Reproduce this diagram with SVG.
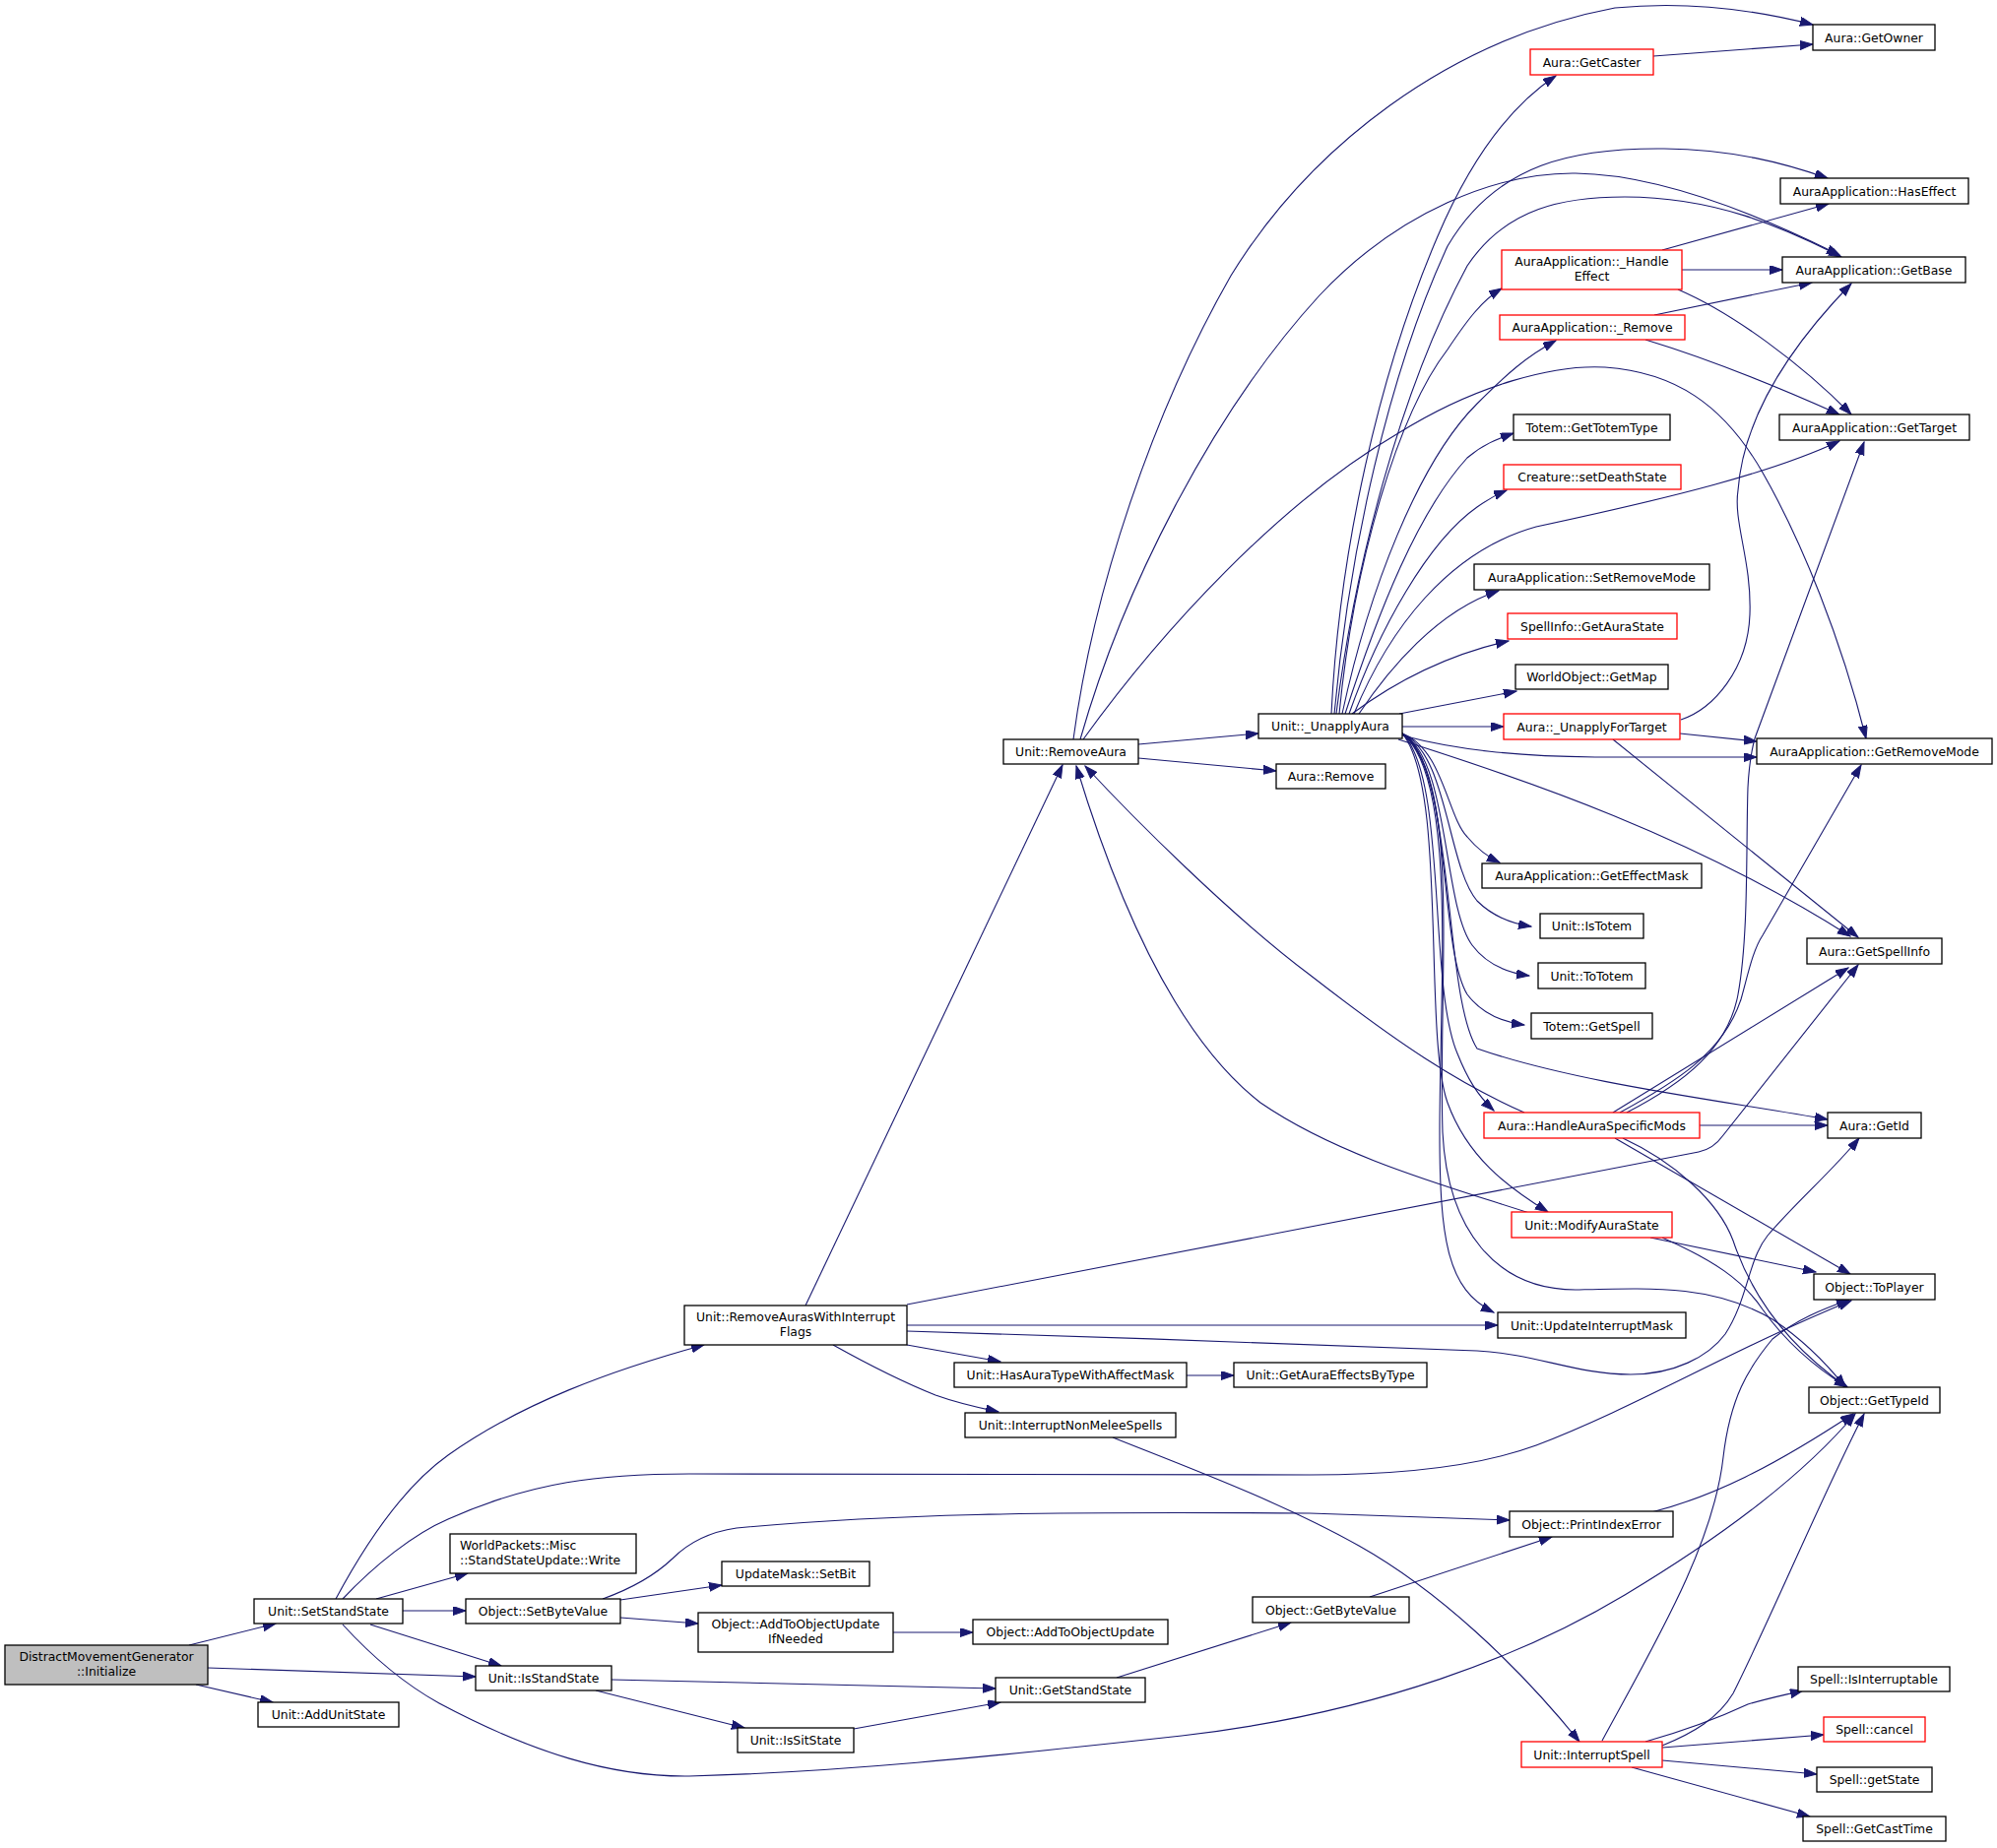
<svg xmlns="http://www.w3.org/2000/svg" width="2028" height="1877" viewBox="0 0 2028 1877">
<style>
.n rect{fill:#fff;stroke:#000;stroke-width:1.3}
.r rect{fill:#fff;stroke:#ff0000;stroke-width:1.3}
.g rect{fill:#bfbfbf;stroke:#000;stroke-width:1.3}
text{font-family:"DejaVu Sans","Liberation Sans",sans-serif;font-size:12.4px;fill:#000;text-anchor:middle}
text.l{text-anchor:start}
#edges path{fill:none;stroke:#191970;stroke-width:1.1;marker-end:url(#a)}
</style>
<defs>
<marker id="a" markerWidth="14" markerHeight="10" refX="13" refY="4.5" orient="auto" markerUnits="userSpaceOnUse">
<path d="M0,0 L13,4.5 L0,9 z" fill="#191970" stroke="#191970" stroke-width="1"/>
</marker>
</defs>
<rect width="2028" height="1877" fill="#fff"/>
<g id="edges">
<path d="M192,1671 L280,1649"/>
<path d="M211,1694 L483,1703"/>
<path d="M199,1711 L277,1729"/>
<path d="M341,1624 C370,1570 410,1510 455,1478 C530,1425 620,1392 715,1366"/>
<path d="M348,1624 C380,1590 420,1558 455,1543 C540,1505 610,1497 700,1497 L1330,1498 C1420,1498 1500,1490 1560,1468 C1660,1430 1760,1370 1880,1321"/>
<path d="M382,1624 L475,1598"/>
<path d="M409,1636 L473,1636"/>
<path d="M376,1650 L509,1692"/>
<path d="M348,1650 C380,1685 410,1710 446,1730 C540,1780 620,1805 700,1804 C850,1800 1000,1785 1200,1763 C1400,1740 1550,1680 1650,1620 C1750,1560 1830,1500 1884,1436"/>
<path d="M612,1624 C640,1614 665,1600 683,1583 C700,1566 720,1556 748,1552 C900,1538 1050,1535 1330,1537 L1533,1544"/>
<path d="M630,1625 L733,1610"/>
<path d="M630,1643 L709,1649"/>
<path d="M621,1706 L1011,1715"/>
<path d="M605,1717 L756,1755"/>
<path d="M867,1756 L1016,1729"/>
<path d="M1134,1704 L1311,1648"/>
<path d="M1391,1622 L1576,1561"/>
<path d="M907,1658 L988,1658"/>
<path d="M1677,1536 C1740,1520 1800,1490 1882,1436"/>
<path d="M818,1326 L1079,777"/>
<path d="M921,1325 L1725,1170 Q1740,1167 1750,1153 L1887,980"/>
<path d="M921,1346 L1521,1346"/>
<path d="M921,1352 C1100,1358 1350,1365 1500,1372 C1560,1375 1600,1396 1656,1396 C1700,1396 1735,1378 1752,1355 C1775,1320 1775,1280 1795,1255 C1825,1220 1860,1190 1888,1156"/>
<path d="M921,1366 L1016,1383"/>
<path d="M846,1366 C880,1385 920,1405 950,1417 C975,1426 995,1430 1014,1434"/>
<path d="M1205,1397 L1253,1397"/>
<path d="M1130,1460 C1200,1488 1300,1525 1380,1570 C1460,1615 1540,1690 1604,1769"/>
<path d="M1627,1768 C1680,1670 1740,1570 1750,1480 C1757,1420 1775,1390 1800,1360 C1825,1340 1850,1330 1878,1320"/>
<path d="M1688,1773 C1720,1760 1745,1745 1760,1720 C1800,1640 1850,1520 1893,1436"/>
<path d="M1671,1769 C1710,1758 1745,1745 1775,1731 C1795,1725 1815,1721 1831,1717"/>
<path d="M1688,1775 L1852,1762"/>
<path d="M1688,1788 L1845,1802"/>
<path d="M1657,1795 L1838,1845"/>
<path d="M1156,756 L1278,745"/>
<path d="M1156,770 L1296,783"/>
<path d="M1090,751 C1110,600 1170,420 1250,280 C1330,150 1470,40 1640,8 C1720,0 1790,12 1841,25"/>
<path d="M1097,751 C1140,600 1230,420 1340,300 C1420,215 1520,175 1600,176 C1680,177 1780,215 1868,259"/>
<path d="M1100,751 C1180,640 1300,510 1420,440 C1500,390 1580,370 1630,373 C1700,378 1750,410 1790,480 C1830,550 1870,650 1895,750"/>
<path d="M1352,725 C1360,560 1400,380 1460,240 C1490,170 1530,110 1580,77"/>
<path d="M1355,725 C1370,560 1410,380 1470,250 C1520,165 1600,150 1690,151 C1760,152 1810,165 1856,181"/>
<path d="M1357,725 C1375,580 1420,400 1490,270 C1530,210 1590,200 1650,200 C1740,200 1810,230 1870,261"/>
<path d="M1360,725 C1375,570 1420,420 1470,355 C1490,325 1505,305 1525,293"/>
<path d="M1363,725 C1390,600 1440,470 1500,410 C1530,380 1550,362 1580,346"/>
<path d="M1366,725 C1400,620 1440,520 1490,465 C1505,452 1520,446 1537,440"/>
<path d="M1370,725 C1400,640 1450,550 1500,515 C1510,508 1518,503 1530,498"/>
<path d="M1375,725 C1410,640 1470,560 1560,535 C1700,505 1800,480 1868,448"/>
<path d="M1380,725 C1410,680 1460,620 1522,600"/>
<path d="M1373,725 C1420,690 1470,665 1532,651"/>
<path d="M1421,725 L1540,702"/>
<path d="M1424,738 L1527,738"/>
<path d="M1424,747 C1480,762 1540,768 1620,769 L1784,769"/>
<path d="M1420,751 C1550,792 1720,850 1879,951"/>
<path d="M1424,745 C1465,760 1470,830 1490,850 C1500,862 1510,870 1523,876"/>
<path d="M1424,745 C1470,765 1470,880 1500,915 C1515,930 1535,938 1555,941"/>
<path d="M1424,745 C1472,770 1465,920 1495,960 C1510,980 1530,988 1553,991"/>
<path d="M1424,745 C1475,775 1460,960 1490,1010 C1505,1030 1525,1038 1548,1041"/>
<path d="M1424,745 C1478,780 1465,1010 1500,1065 C1600,1100 1750,1118 1856,1137"/>
<path d="M1424,745 C1470,790 1450,1000 1480,1070 C1490,1095 1500,1112 1517,1128"/>
<path d="M1424,745 C1470,800 1445,1050 1470,1120 C1490,1175 1530,1205 1572,1231"/>
<path d="M1424,745 C1480,790 1462,1000 1462,1150 C1462,1260 1470,1310 1517,1333"/>
<path d="M1424,745 C1485,790 1460,1000 1465,1150 C1470,1250 1520,1310 1600,1310 C1680,1308 1740,1305 1800,1340 C1830,1360 1855,1385 1874,1409"/>
<path d="M1548,1130 C1480,1100 1420,1060 1330,990 C1250,930 1150,830 1102,778"/>
<path d="M1638,1130 L1877,983"/>
<path d="M1645,1130 C1700,1100 1750,1070 1768,1015 C1775,990 1780,965 1790,950 L1890,777"/>
<path d="M1652,1130 C1710,1100 1755,1065 1765,1010 C1776,950 1773,860 1775,800 C1776,780 1778,765 1782,750 L1893,449"/>
<path d="M1640,1156 L1879,1294"/>
<path d="M1648,1156 C1700,1180 1745,1220 1760,1260 C1780,1320 1820,1370 1876,1409"/>
<path d="M1726,1143 L1856,1143"/>
<path d="M1553,1232 C1470,1205 1360,1175 1280,1120 C1190,1050 1130,900 1093,778"/>
<path d="M1676,1257 L1844,1292"/>
<path d="M1688,1257 C1740,1280 1770,1300 1790,1330 C1815,1365 1845,1390 1876,1409"/>
<path d="M1688,254 L1857,207"/>
<path d="M1708,274 L1810,274"/>
<path d="M1704,294 C1760,318 1830,370 1880,421"/>
<path d="M1680,320 L1840,287"/>
<path d="M1671,345 C1740,366 1810,395 1868,421"/>
<path d="M1679,57 L1841,45"/>
<path d="M1707,731 C1740,720 1775,680 1777,624 C1779,570 1760,530 1765,498 C1770,430 1810,360 1880,288"/>
<path d="M1706,745 L1784,753"/>
<path d="M1638,751 L1887,952"/>
</g>
<g id="n0" class="g"><rect x="5" y="1671" width="206" height="40"/><text x="108" y="1687">DistractMovementGenerator</text><text x="108" y="1702">::Initialize</text></g>
<g id="n1" class="n"><rect x="258" y="1624" width="151" height="25"/><text x="333.5" y="1641">Unit::SetStandState</text></g>
<g id="n2" class="n"><rect x="262" y="1729" width="143" height="25"/><text x="333.5" y="1746">Unit::AddUnitState</text></g>
<g id="n3" class="n"><rect x="695" y="1326" width="226" height="40"/><text x="808" y="1342">Unit::RemoveAurasWithInterrupt</text><text x="808" y="1357">Flags</text></g>
<g id="n4" class="n"><rect x="457" y="1558" width="189" height="40"/><text class="l" x="467" y="1574">WorldPackets::Misc</text><text class="l" x="467" y="1589">::StandStateUpdate::Write</text></g>
<g id="n5" class="n"><rect x="473" y="1624" width="157" height="25"/><text x="551.5" y="1641">Object::SetByteValue</text></g>
<g id="n6" class="n"><rect x="483" y="1692" width="138" height="25"/><text x="552" y="1709">Unit::IsStandState</text></g>
<g id="n7" class="n"><rect x="1019" y="751" width="137" height="25"/><text x="1087.5" y="768">Unit::RemoveAura</text></g>
<g id="n8" class="n"><rect x="969" y="1384" width="236" height="25"/><text x="1087" y="1401">Unit::HasAuraTypeWithAffectMask</text></g>
<g id="n9" class="n"><rect x="980" y="1435" width="214" height="25"/><text x="1087" y="1452">Unit::InterruptNonMeleeSpells</text></g>
<g id="n10" class="n"><rect x="733" y="1586" width="150" height="25"/><text x="808" y="1603">UpdateMask::SetBit</text></g>
<g id="n11" class="n"><rect x="709" y="1638" width="198" height="40"/><text x="808" y="1654">Object::AddToObjectUpdate</text><text x="808" y="1669">IfNeeded</text></g>
<g id="n12" class="n"><rect x="749" y="1755" width="118" height="25"/><text x="808" y="1772">Unit::IsSitState</text></g>
<g id="n13" class="n"><rect x="1278" y="725" width="146" height="25"/><text x="1351" y="742">Unit::_UnapplyAura</text></g>
<g id="n14" class="n"><rect x="1296" y="776" width="111" height="25"/><text x="1351.5" y="793">Aura::Remove</text></g>
<g id="n15" class="n"><rect x="1253" y="1384" width="196" height="25"/><text x="1351" y="1401">Unit::GetAuraEffectsByType</text></g>
<g id="n16" class="n"><rect x="988" y="1645" width="198" height="25"/><text x="1087" y="1662">Object::AddToObjectUpdate</text></g>
<g id="n17" class="n"><rect x="1272" y="1622" width="159" height="26"/><text x="1351.5" y="1639.5">Object::GetByteValue</text></g>
<g id="n18" class="n"><rect x="1011" y="1704" width="152" height="25"/><text x="1087" y="1721">Unit::GetStandState</text></g>
<g id="n19" class="r"><rect x="1554" y="50" width="125" height="26"/><text x="1616.5" y="67.5">Aura::GetCaster</text></g>
<g id="n20" class="r"><rect x="1525" y="254" width="183" height="40"/><text x="1616.5" y="270">AuraApplication::_Handle</text><text x="1616.5" y="285">Effect</text></g>
<g id="n21" class="r"><rect x="1523" y="320" width="188" height="25"/><text x="1617" y="337">AuraApplication::_Remove</text></g>
<g id="n22" class="n"><rect x="1537" y="421" width="159" height="26"/><text x="1616.5" y="438.5">Totem::GetTotemType</text></g>
<g id="n23" class="r"><rect x="1527" y="472" width="180" height="25"/><text x="1617" y="489">Creature::setDeathState</text></g>
<g id="n24" class="n"><rect x="1497" y="573" width="239" height="26"/><text x="1616.5" y="590.5">AuraApplication::SetRemoveMode</text></g>
<g id="n25" class="r"><rect x="1531" y="623" width="172" height="26"/><text x="1617" y="640.5">SpellInfo::GetAuraState</text></g>
<g id="n26" class="n"><rect x="1539" y="675" width="155" height="25"/><text x="1616.5" y="692">WorldObject::GetMap</text></g>
<g id="n27" class="r"><rect x="1527" y="725" width="179" height="26"/><text x="1616.5" y="742.5">Aura::_UnapplyForTarget</text></g>
<g id="n28" class="n"><rect x="1505" y="877" width="223" height="25"/><text x="1616.5" y="894">AuraApplication::GetEffectMask</text></g>
<g id="n29" class="n"><rect x="1564" y="928" width="105" height="25"/><text x="1616.5" y="945">Unit::IsTotem</text></g>
<g id="n30" class="n"><rect x="1562" y="978" width="109" height="26"/><text x="1616.5" y="995.5">Unit::ToTotem</text></g>
<g id="n31" class="n"><rect x="1555" y="1029" width="123" height="26"/><text x="1616.5" y="1046.5">Totem::GetSpell</text></g>
<g id="n32" class="r"><rect x="1507" y="1130" width="219" height="26"/><text x="1616.5" y="1147.5">Aura::HandleAuraSpecificMods</text></g>
<g id="n33" class="r"><rect x="1535" y="1231" width="163" height="26"/><text x="1616.5" y="1248.5">Unit::ModifyAuraState</text></g>
<g id="n34" class="n"><rect x="1521" y="1333" width="191" height="26"/><text x="1616.5" y="1350.5">Unit::UpdateInterruptMask</text></g>
<g id="n35" class="n"><rect x="1533" y="1535" width="166" height="26"/><text x="1616" y="1552.5">Object::PrintIndexError</text></g>
<g id="n36" class="r"><rect x="1545" y="1769" width="143" height="26"/><text x="1616.5" y="1786.5">Unit::InterruptSpell</text></g>
<g id="n37" class="n"><rect x="1841" y="25" width="124" height="26"/><text x="1903" y="42.5">Aura::GetOwner</text></g>
<g id="n38" class="n"><rect x="1808" y="181" width="191" height="26"/><text x="1903.5" y="198.5">AuraApplication::HasEffect</text></g>
<g id="n39" class="n"><rect x="1810" y="261" width="186" height="26"/><text x="1903" y="278.5">AuraApplication::GetBase</text></g>
<g id="n40" class="n"><rect x="1807" y="421" width="193" height="26"/><text x="1903.5" y="438.5">AuraApplication::GetTarget</text></g>
<g id="n41" class="n"><rect x="1784" y="750" width="239" height="26"/><text x="1903.5" y="767.5">AuraApplication::GetRemoveMode</text></g>
<g id="n42" class="n"><rect x="1835" y="953" width="137" height="26"/><text x="1903.5" y="970.5">Aura::GetSpellInfo</text></g>
<g id="n43" class="n"><rect x="1856" y="1130" width="95" height="26"/><text x="1903.5" y="1147.5">Aura::GetId</text></g>
<g id="n44" class="n"><rect x="1842" y="1294" width="123" height="26"/><text x="1903.5" y="1311.5">Object::ToPlayer</text></g>
<g id="n45" class="n"><rect x="1837" y="1409" width="133" height="26"/><text x="1903.5" y="1426.5">Object::GetTypeId</text></g>
<g id="n46" class="n"><rect x="1826" y="1693" width="154" height="25"/><text x="1903" y="1710">Spell::IsInterruptable</text></g>
<g id="n47" class="r"><rect x="1852" y="1744" width="103" height="25"/><text x="1903.5" y="1761">Spell::cancel</text></g>
<g id="n48" class="n"><rect x="1845" y="1795" width="117" height="25"/><text x="1903.5" y="1812">Spell::getState</text></g>
<g id="n49" class="n"><rect x="1831" y="1845" width="145" height="25"/><text x="1903.5" y="1862">Spell::GetCastTime</text></g>
</svg>
